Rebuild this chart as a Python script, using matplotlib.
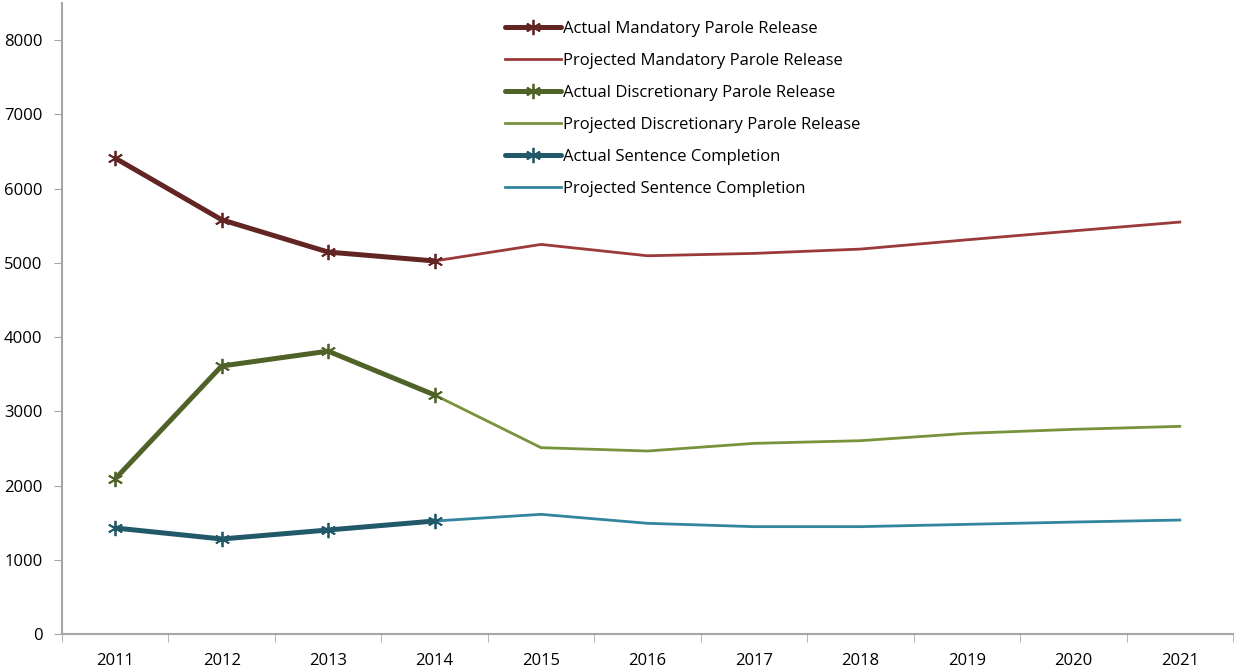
import numpy as np
import matplotlib
matplotlib.use('Agg')
import matplotlib.pyplot as plt

plt.rcParams['font.family'] = ['Open Sans', 'DejaVu Sans']

years = [2011, 2012, 2013, 2014, 2015, 2016, 2017, 2018, 2019, 2020, 2021]
actual_years = years[:4]
proj_years = years[3:]

mand_actual = [6410, 5580, 5145, 5025]
mand_proj = [5025, 5248, 5095, 5127, 5185, 5310, 5430, 5549]
disc_actual = [2090, 3610, 3810, 3220]
disc_proj = [3220, 2510, 2465, 2568, 2604, 2703, 2757, 2797]
sent_actual = [1428, 1280, 1401, 1522]
sent_proj = [1522, 1612, 1491, 1446, 1446, 1477, 1508, 1535]

labels = ['Actual Mandatory Parole Release', 'Projected Mandatory Parole Release',
          'Actual Discretionary Parole Release', 'Projected Discretionary Parole Release',
          'Actual Sentence Completion', 'Projected Sentence Completion']
colors = ['#632523', '#9b3a38', '#4f6228', '#77933c', '#215968', '#31859c']

fig = plt.figure(figsize=(12.35, 6.71), dpi=100)
ax = fig.add_axes([62/1235, 1 - 634/671, 1171/1235, 631/671])

star = (6, 2, 0)
xi = {y: i for i, y in enumerate(years)}
series = [(actual_years, mand_actual), (proj_years, mand_proj),
          (actual_years, disc_actual), (proj_years, disc_proj),
          (actual_years, sent_actual), (proj_years, sent_proj)]
# draw projected first so actual sits on top
order = [1, 3, 5, 0, 2, 4]
handles = {}
for k in order:
    xs, vals = series[k]
    x = [xi[y] for y in xs]
    if k % 2 == 0:
        h, = ax.plot(x, vals, color=colors[k], lw=3.6, marker=star, ms=11,
                     mew=1.3, label=labels[k], solid_capstyle='round')
    else:
        h, = ax.plot(x, vals, color=colors[k], lw=2.0, label=labels[k])
    handles[k] = h

ax.set_xlim(-0.5, len(years) - 0.5)
ax.set_ylim(0, 8500)
ax.set_yticks(np.arange(0, 8001, 1000))
ax.set_xticks(range(len(years)))
ax.set_xticklabels([str(y) for y in years])
ax.set_xticks(np.arange(-0.5, len(years), 1), minor=True)
ax.tick_params(axis='x', which='major', length=0, pad=14, labelsize=12, colors='black')
ax.tick_params(axis='x', which='minor', length=6, color='#a6a6a6', direction='out')
ax.tick_params(axis='y', length=6, color='#a6a6a6', labelsize=12, pad=8)
for s in ['top', 'right']:
    ax.spines[s].set_visible(False)
for s in ['left', 'bottom']:
    ax.spines[s].set_color('#a6a6a6')
    ax.spines[s].set_linewidth(1.5)

leg = fig.legend([handles[k] for k in range(6)], labels, loc='upper left',
                 bbox_to_anchor=(498/1235, 1 - 14/671), frameon=False,
                 fontsize=12, handlelength=3.4, handletextpad=0.1,
                 labelspacing=0.96, borderaxespad=0)

fig.savefig('out.png', dpi=100)
